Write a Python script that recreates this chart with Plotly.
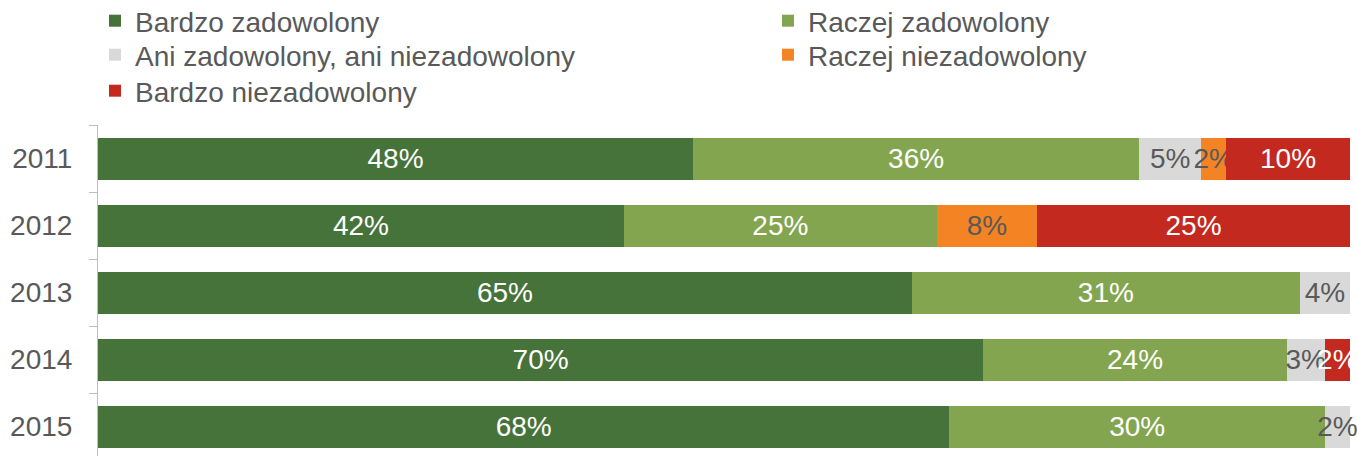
import plotly.graph_objects as go

# Satisfaction survey results by year (percent of respondents)
years = ["2011", "2012", "2013", "2014", "2015"]
series_names = [
    "Bardzo zadowolony",
    "Raczej zadowolony",
    "Ani zadowolony, ani niezadowolony",
    "Raczej niezadowolony",
    "Bardzo niezadowolony",
]
bardzo_zadowolony = [48, 42, 65, 70, 68]
raczej_zadowolony = [36, 25, 31, 24, 30]
ani_ani = [5, None, 4, 3, 2]
raczej_niezadowolony = [2, 8, None, None, None]
bardzo_niezadowolony = [10, 25, None, 2, None]

series_values = [
    bardzo_zadowolony,
    raczej_zadowolony,
    ani_ani,
    raczej_niezadowolony,
    bardzo_niezadowolony,
]
colors = ["#46733A", "#84A54F", "#D9D9D9", "#F48324", "#C4291F"]
label_colors = ["#FFFFFF", "#FFFFFF", "#595959", "#595959", "#FFFFFF"]

FONT = "Liberation Sans, Arial, sans-serif"
GRAY = "#595959"

W, H = 1357, 456
M_L, M_R, M_T, M_B = 98, 7, 125, 0
PLOT_W = W - M_L - M_R
PLOT_H = H - M_T - M_B
BAND = 67  # pixel height of one category band

# legend entries laid out in two columns: (left px, top px) of each entry box
legend_slots = [(95, -4), (768, -4), (95, 30), (768, 30), (95, 66)]
legend_ids = ["legend", "legend2", "legend3", "legend4", "legend5"]

fig = go.Figure()
for name, vals, col, tcol, lid in zip(series_names, series_values, colors,
                                      label_colors, legend_ids):
    fig.add_trace(go.Bar(
        name=name,
        y=years,
        x=vals,
        orientation="h",
        marker=dict(color=col, line=dict(width=0)),
        text=[f"{v}%" if v is not None else "" for v in vals],
        textposition="inside",
        insidetextanchor="middle",
        textangle=0,
        textfont=dict(family=FONT, size=28, color=tcol),
        cliponaxis=False,
        hoverinfo="skip",
        legend=lid,
    ))

legend_layouts = {}
for lid, (px, py) in zip(legend_ids, legend_slots):
    legend_layouts[lid] = dict(
        orientation="v",
        x=(px - M_L) / PLOT_W,
        xanchor="left",
        y=1 + (M_T - py) / PLOT_H,
        yanchor="top",
        font=dict(family=FONT, size=28, color=GRAY),
        bgcolor="rgba(0,0,0,0)",
        borderwidth=0,
    )

fig.update_layout(
    width=W,
    height=H,
    barmode="stack",
    barnorm="percent",
    bargap=0.373,
    plot_bgcolor="white",
    paper_bgcolor="white",
    margin=dict(l=M_L, r=M_R, t=M_T, b=M_B, autoexpand=False),
    font=dict(family=FONT, size=28, color=GRAY),
    uniformtext=dict(minsize=28, mode="show"),
    showlegend=True,
    xaxis=dict(
        range=[0, 100],
        visible=False,
        fixedrange=True,
    ),
    yaxis=dict(
        type="category",
        categoryorder="array",
        categoryarray=years,
        range=[-0.5 + PLOT_H / BAND, -0.5],
        showline=True,
        linecolor="#BFBFBF",
        linewidth=1,
        ticks="outside",
        tickson="boundaries",
        ticklen=8,
        tickcolor="#BFBFBF",
        ticklabelstandoff=19,
        tickfont=dict(family=FONT, size=28, color=GRAY),
        showgrid=False,
        zeroline=False,
        fixedrange=True,
    ),
    **legend_layouts,
)

fig.write_html("out.html")
